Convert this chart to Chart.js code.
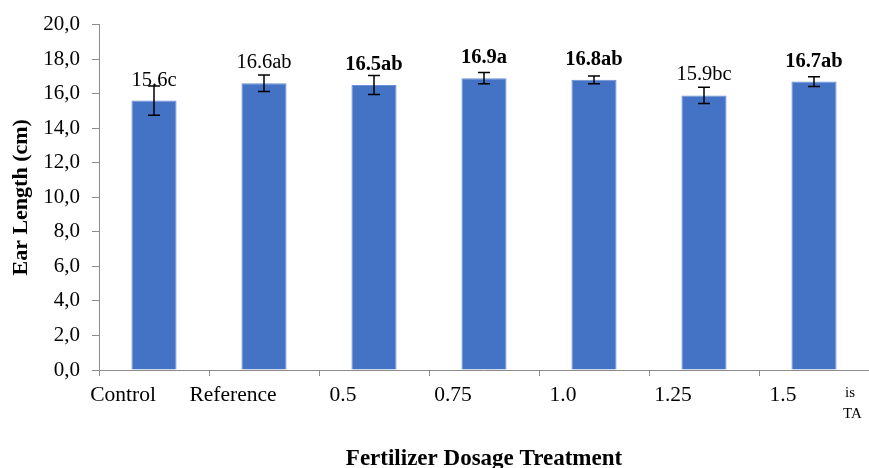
<!DOCTYPE html>
<html>
<head>
<meta charset="utf-8">
<script src="https://cdn.jsdelivr.net/npm/chart.js@4/dist/chart.umd.min.js"></script>
<style>
body { margin:0; background:#fff; }
canvas { display:block; }
</style>
</head>
<body>
<canvas id="myChart" width="869" height="468"></canvas>
<script>
// data
var categories = ["Control", "Reference", "0.5", "0.75", "1.0", "1.25", "1.5"];
var earLength = [15.6, 16.6, 16.5, 16.9, 16.8, 15.9, 16.7];
var errors = [0.85, 0.48, 0.55, 0.33, 0.23, 0.47, 0.28];
var letters = ["15.6c", "16.6ab", "16.5ab", "16.9a", "16.8ab", "15.9bc", "16.7ab"];
var boldLabel = [false, false, true, true, true, false, true];

var serif = "'Liberation Serif', 'Times New Roman', serif";
var axisGray = '#8c8c8c';

// error bars + value labels on top of bars
var barExtras = {
	id: 'barExtras',
	afterDatasetsDraw: function(chart)
	{
		var ctx = chart.ctx;
		var y = chart.scales.y;
		var meta = chart.getDatasetMeta(0);
		ctx.save();
		for (var i = 0; i < meta.data.length; i++)
		{
			var x = meta.data[i].x;
			var top = y.getPixelForValue(earLength[i] + errors[i]);
			var bot = y.getPixelForValue(earLength[i] - errors[i]);
			ctx.strokeStyle = '#000';
			ctx.lineWidth = 1.5;
			ctx.beginPath();
			ctx.moveTo(x, top); ctx.lineTo(x, bot);
			ctx.moveTo(x - 6, top); ctx.lineTo(x + 6, top);
			ctx.moveTo(x - 6, bot); ctx.lineTo(x + 6, bot);
			ctx.stroke();

			ctx.fillStyle = '#000';
			ctx.textAlign = 'center';
			ctx.textBaseline = 'alphabetic';
			ctx.font = (boldLabel[i] ? 'bold ' : '') + '20.5px ' + serif;
			ctx.fillText(letters[i], x, y.getPixelForValue(earLength[i]) - 15);
		}
		// clipped leftover text at the right edge of the original figure
		ctx.font = '15px ' + serif;
		ctx.textAlign = 'left';
		ctx.fillText('is', 845, 397);
		ctx.fillText('TA', 843, 418);
		ctx.restore();
	}
};

var ctx = document.getElementById('myChart').getContext('2d');
var barChart = new Chart(ctx, {
	type: 'bar',
	data: {
		labels: categories,
		datasets: [{
			label: 'Ear Length',
			data: earLength,
			backgroundColor: '#4472C4',
			borderColor: '#6a8fd4',
			borderWidth: 1,
			categoryPercentage: 1,
			barPercentage: 0.41
		}]
	},
	options: {
		responsive: false,
		animation: false,
		layout: { padding: { top: 23, right: 0, bottom: 0, left: 0 } },
		plugins: {
			legend: { display: false },
			tooltip: { enabled: false }
		},
		scales: {
			x: {
				offset: true,
				border: { display: true, color: axisGray, width: 1 },
				grid: { offset: true, drawOnChartArea: false, drawTicks: true, tickLength: 6, color: axisGray },
				ticks: {
					color: '#000',
					font: { family: serif, size: 21.5 },
					padding: 6,
					labelOffset: -31,
					maxRotation: 0,
					autoSkip: false
				},
				title: {
					display: true,
					text: 'Fertilizer Dosage Treatment',
					color: '#000',
					font: { family: serif, size: 23, weight: 'bold', lineHeight: 0.8 },
					padding: { top: 0, bottom: 0 }
				},
				afterFit: function(scale) { scale.height = 98; }
			},
			y: {
				min: 0,
				max: 20,
				border: { display: true, color: axisGray, width: 1 },
				grid: { drawOnChartArea: false, drawTicks: true, tickLength: 7, color: axisGray },
				ticks: {
					stepSize: 2,
					color: '#000',
					font: { family: serif, size: 21 },
					padding: 12,
					callback: function(v) { return v.toFixed(1).replace('.', ','); }
				},
				title: {
					display: true,
					text: 'Ear Length (cm)',
					color: '#000',
					font: { family: serif, size: 22, weight: 'bold', lineHeight: 1.2 },
					padding: { top: 8, bottom: 0 }
				},
				afterFit: function(scale) { scale.width = 99; }
			}
		}
	},
	plugins: [barExtras]
});
</script>
</body>
</html>
